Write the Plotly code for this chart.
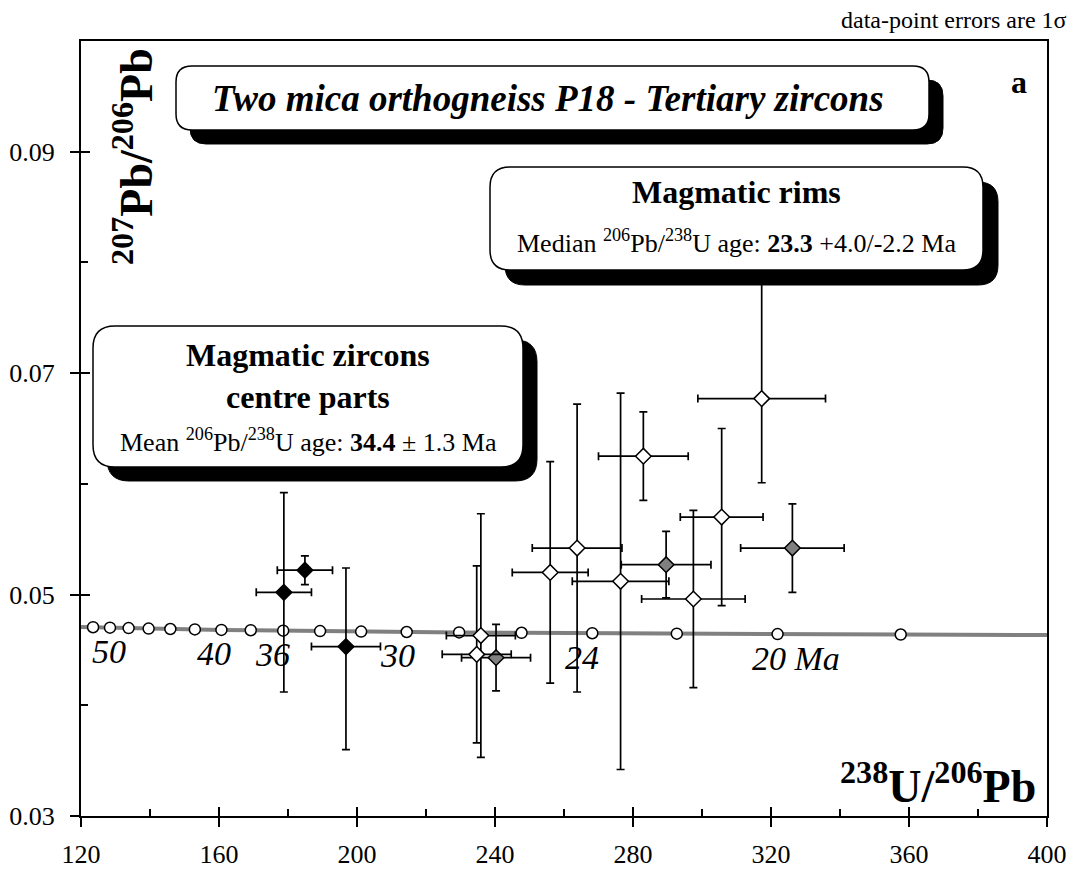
import plotly.graph_objects as go

# ---- Concordia (Tera-Wasserburg) age ticks, 2 Ma steps ----
conc_age = [52, 50, 48, 46, 44, 42, 40, 38, 36, 34, 32, 30, 28, 26, 24, 22, 20, 18]
conc_x = [123.5, 128.4, 133.8, 139.6, 145.9, 153.0, 160.7, 169.2, 178.6, 189.3,
          201.2, 214.4, 229.6, 247.7, 268.2, 292.7, 321.9, 357.6]
conc_y = [0.04705, 0.04701, 0.04697, 0.04693, 0.04689, 0.04685, 0.04681, 0.04678,
          0.04674, 0.04670, 0.04666, 0.04662, 0.04658, 0.04655, 0.04651, 0.04647,
          0.04643, 0.04639]
# concordia curve ends at the frame
conc_end_x = [120.0, 400.0]
conc_end_y = [0.04708, 0.04635]

# labelled ages on the concordia
age_labels = ["50", "40", "36", "30", "24", "20 Ma"]
age_label_at = [50, 40, 36, 30, 24, 20]

# ---- Magmatic rims (open diamonds) ----
rim_x = [283.0, 305.7, 297.5, 276.4, 263.8, 256.0, 235.9, 234.7, 317.3]
rim_xerr = [13.0, 12.0, 15.0, 14.0, 13.0, 11.0, 10.0, 10.0, 18.5]
rim_y = [0.0625, 0.0570, 0.0496, 0.0512, 0.0542, 0.0520, 0.0463, 0.0446, 0.0677]
rim_yerr_up = [0.0040, 0.0080, 0.0080, 0.0170, 0.0130, 0.0100, 0.0110, 0.0080, 0.0110]
rim_yerr_dn = [0.0040, 0.0080, 0.0080, 0.0170, 0.0130, 0.0100, 0.0110, 0.0080, 0.0076]

# ---- grey diamonds ----
grey_x = [326.2, 289.6, 240.3]
grey_xerr = [15.0, 13.0, 10.0]
grey_y = [0.0542, 0.0527, 0.0443]
grey_yerr_up = [0.0040, 0.0030, 0.0030]
grey_yerr_dn = [0.0040, 0.0030, 0.0030]

# ---- Magmatic zircon centre parts (filled diamonds) ----
core_x = [184.9, 178.8, 196.8]
core_xerr = [8.0, 8.0, 10.0]
core_y = [0.0522, 0.0502, 0.0453]
core_yerr_up = [0.0013, 0.0090, 0.0071]
core_yerr_dn = [0.0013, 0.0090, 0.0093]

x_range = [120, 400]
y_range = [0.03, 0.10]

FONT = "Liberation Serif, Times New Roman, serif"
W, H = 1075, 875
ML, MR, MT, MB = 81, 28, 41, 59
PL, PR, PT, PB = ML, W - MR, MT, H - MB


def px(x):
    return (x - PL) / (PR - PL)


def py(y):
    return (PB - y) / (PB - PT)


def rounded_box(x0, y0, x1, y1, r):
    pts = [
        ("M", [(x0 + r, y0)]), ("L", [(x1 - r, y0)]), ("Q", [(x1, y0), (x1, y0 + r)]),
        ("L", [(x1, y1 - r)]), ("Q", [(x1, y1), (x1 - r, y1)]),
        ("L", [(x0 + r, y1)]), ("Q", [(x0, y1), (x0, y1 - r)]),
        ("L", [(x0, y0 + r)]), ("Q", [(x0, y0), (x0 + r, y0)]),
    ]
    s = ""
    for cmd, ps in pts:
        s += cmd + " ".join(f"{px(a):.5f},{py(b):.5f}" for a, b in ps) + " "
    return s + "Z"


def err_trace(x, xe, y, ye_up, ye_dn, fill, name):
    return go.Scatter(
        x=x, y=y, mode="markers", name=name, showlegend=False,
        marker=dict(symbol="diamond", size=12, color=fill,
                    line=dict(color="black", width=1.5)),
        error_x=dict(type="data", array=xe, color="black", thickness=1.7, width=4),
        error_y=dict(type="data", array=ye_up, arrayminus=ye_dn, symmetric=False,
                     color="black", thickness=1.7, width=4),
    )


fig = go.Figure()

# concordia curve and age ticks
fig.add_trace(go.Scatter(
    x=[conc_end_x[0]] + conc_x + [conc_end_x[1]],
    y=[conc_end_y[0]] + conc_y + [conc_end_y[1]],
    mode="lines", line=dict(color="#808080", width=4),
    showlegend=False, hoverinfo="skip"))
fig.add_trace(go.Scatter(
    x=conc_x, y=conc_y, mode="markers", showlegend=False,
    marker=dict(symbol="circle", size=11, color="white",
                line=dict(color="black", width=1.5))))

fig.add_trace(err_trace(core_x, core_xerr, core_y, core_yerr_up, core_yerr_dn,
                        "black", "centres"))
fig.add_trace(err_trace(grey_x, grey_xerr, grey_y, grey_yerr_up, grey_yerr_dn,
                        "#808080", "grey"))
fig.add_trace(err_trace(rim_x, rim_xerr, rim_y, rim_yerr_up, rim_yerr_dn,
                        "white", "rims"))

# overlay axes carry the inward half of the ticks
fig.add_trace(go.Scatter(x=[None], y=[None], xaxis="x2", yaxis="y2",
                         showlegend=False, hoverinfo="skip"))

axis_common = dict(showgrid=False, zeroline=False, color="black", automargin=False)
fig.update_layout(
    template="none",
    width=W, height=H,
    margin=dict(l=ML, r=MR, t=MT, b=MB, pad=0, autoexpand=False),
    paper_bgcolor="white", plot_bgcolor="white",
    font=dict(family=FONT, color="black", size=26),
    xaxis=dict(range=x_range, tick0=120, dtick=40, ticks="outside", ticklen=9,
               tickwidth=2, tickcolor="black", showline=True, linewidth=2,
               linecolor="black", mirror=True, ticklabelstandoff=5,
               tickfont=dict(family=FONT, size=26, color="black"), **axis_common),
    yaxis=dict(range=y_range, tick0=0.03, dtick=0.02, ticks="outside", ticklen=9,
               tickwidth=2, tickcolor="black", showline=True, linewidth=2,
               linecolor="black", mirror=True, tickformat=".2f", ticklabelstandoff=10,
               tickfont=dict(family=FONT, size=26, color="black"), **axis_common),
    xaxis2=dict(range=x_range, overlaying="x", anchor="y", side="bottom",
                tick0=120, dtick=40, ticks="inside", ticklen=9, tickwidth=2,
                tickcolor="black", showticklabels=False, showline=False,
                minor=dict(dtick=20, tick0=120, ticks="inside", ticklen=7,
                           tickwidth=1.5, tickcolor="black"),
                **axis_common),
    yaxis2=dict(range=y_range, overlaying="y", anchor="x", side="left",
                tick0=0.03, dtick=0.02, ticks="inside", ticklen=9, tickwidth=2,
                tickcolor="black", showticklabels=False, showline=False,
                minor=dict(dtick=0.01, tick0=0.03, ticks="inside", ticklen=7,
                           tickwidth=1.5, tickcolor="black"),
                **axis_common),
)

shapes = []
boxes = [
    (176, 66, 929, 130, 16, 14),   # title
    (490, 167, 983, 270, 20, 15),  # magmatic rims
    (93, 326, 523, 467, 22, 14),   # centre parts
]
for x0, y0, x1, y1, r, off in boxes:
    shapes.append(dict(type="path", xref="paper", yref="paper",
                       path=rounded_box(x0 + off, y0 + off, x1 + off, y1 + off, r),
                       fillcolor="black", line=dict(color="black", width=1),
                       layer="above"))
    shapes.append(dict(type="path", xref="paper", yref="paper",
                       path=rounded_box(x0, y0, x1, y1, r),
                       fillcolor="white", line=dict(color="black", width=1.5),
                       layer="above"))
fig.update_layout(shapes=shapes)


def note(text, x, y, size, xanchor="center", yanchor="middle", angle=0):
    fig.add_annotation(text=text, x=px(x), y=py(y), xref="paper", yref="paper",
                       xanchor=xanchor, yanchor=yanchor, showarrow=False,
                       textangle=angle, font=dict(family=FONT, size=size, color="black"))


note("data-point errors are 1σ", 1069, 20, 24, xanchor="right")
note("<b><i>Two mica orthogneiss P18 - Tertiary zircons</i></b>", 548, 98, 37)
note("<b>a</b>", 1019, 82, 32)

note("<b>Magmatic rims</b>", 736, 192, 32)
note("Median <sup>206</sup>Pb/<sup>238</sup>U age: <b>23.3</b> +4.0/-2.2 Ma", 736, 241, 26)

note("<b>Magmatic zircons</b>", 308, 355, 32)
note("<b>centre parts</b>", 308, 397, 32)
note("Mean <sup>206</sup>Pb/<sup>238</sup>U age: <b>34.4</b> ± 1.3 Ma", 308, 440, 26)

# axis titles drawn inside the frame
note("<b><sup>207</sup>Pb/<sup>206</sup>Pb</b>", 133, 157, 46, angle=-90)
note("<b><sup>238</sup>U/<sup>206</sup>Pb</b>", 1038, 783, 46, xanchor="right")

# age labels along the concordia, offset below their ticks
label_dx = [-1, -7, -11, -9, -10, 18]
for text, age, dx in zip(age_labels, age_label_at, label_dx):
    i = conc_age.index(age)
    fig.add_annotation(text=f"<i>{text}</i>", x=conc_x[i], y=conc_y[i],
                       xref="x", yref="y", showarrow=False, xshift=dx, yshift=-24,
                       font=dict(family=FONT, size=34, color="black"))

fig.write_html("out.html")
